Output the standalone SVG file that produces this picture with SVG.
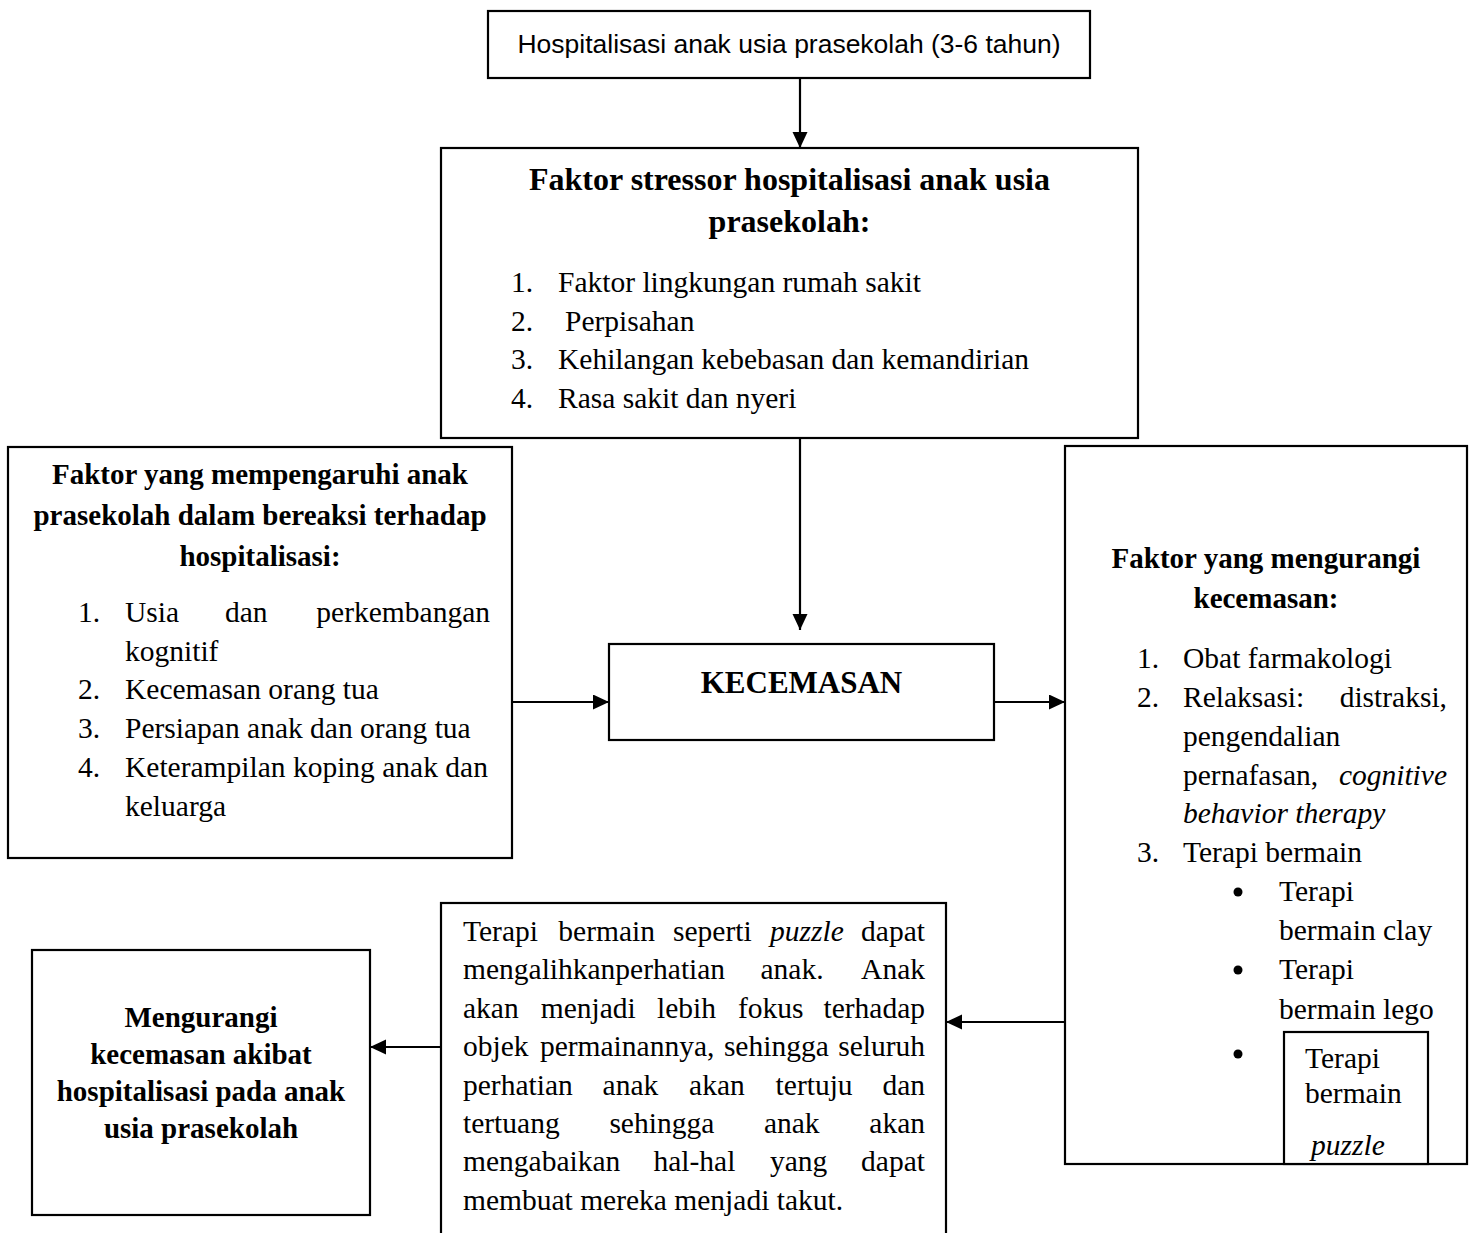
<svg xmlns="http://www.w3.org/2000/svg" width="1475" height="1233" viewBox="0 0 1475 1233">
<style>
.box{fill:#fff;stroke:#000;stroke-width:2.2}
.t{font-family:"Liberation Serif","Times New Roman",serif;font-size:29.5px;fill:#000}
.b{font-family:"Liberation Serif","Times New Roman",serif;font-weight:bold;font-size:29px;fill:#000}
.i{font-style:italic}
.c{text-anchor:middle}
.e{text-anchor:end}
.s{font-family:"Liberation Sans",Arial,sans-serif;font-size:26px;fill:#000}
.ln{stroke:#000;stroke-width:2.2;fill:none;marker-end:url(#ah)}
</style>
<defs>
<marker id="ah" markerUnits="userSpaceOnUse" markerWidth="18" markerHeight="16" refX="16" refY="7.5" orient="auto">
<path d="M0,0 L16,7.5 L0,15 Z" fill="#000"/>
</marker>
</defs>
<rect width="1475" height="1233" fill="#fff"/>

<g id="connectors">
<line class="ln" x1="800" y1="78" x2="800" y2="148"/>
<line class="ln" x1="800" y1="438" x2="800" y2="630"/>
<line class="ln" x1="512" y1="702" x2="609" y2="702"/>
<line class="ln" x1="994" y1="702" x2="1065" y2="702"/>
<line class="ln" x1="1065" y1="1022" x2="946" y2="1022"/>
<line class="ln" x1="441" y1="1047" x2="370" y2="1047"/>
</g>

<g id="node-hospitalisasi">
<rect class="box" x="488" y="11" width="602" height="67"/>
<text class="s c" x="789" y="53" textLength="543" lengthAdjust="spacingAndGlyphs">Hospitalisasi anak usia prasekolah (3-6 tahun)</text>
</g>

<g id="node-stressor">
<rect class="box" x="441" y="148" width="697" height="290"/>
<text class="b c" x="789.5" y="190" style="font-size:32px">Faktor stressor hospitalisasi anak usia</text>
<text class="b c" x="789.5" y="232" style="font-size:32px">prasekolah:</text>
<text class="t" x="511" y="292">1.</text><text class="t" x="558" y="292">Faktor lingkungan rumah sakit</text>
<text class="t" x="511" y="331">2.</text><text class="t" x="565" y="331">Perpisahan</text>
<text class="t" x="511" y="369">3.</text><text class="t" x="558" y="369">Kehilangan kebebasan dan kemandirian</text>
<text class="t" x="511" y="408">4.</text><text class="t" x="558" y="408">Rasa sakit dan nyeri</text>
</g>

<g id="node-faktor-reaksi">
<rect class="box" x="8" y="447" width="504" height="411"/>
<text class="b c" x="260" y="484">Faktor yang mempengaruhi anak</text>
<text class="b c" x="260" y="525">prasekolah dalam bereaksi terhadap</text>
<text class="b c" x="260" y="566">hospitalisasi:</text>
<text class="t" x="78" y="622">1.</text>
<text class="t" x="125" y="622">Usia</text><text class="t" x="225" y="622">dan</text><text class="t e" x="490" y="622">perkembangan</text>
<text class="t" x="125" y="661">kognitif</text>
<text class="t" x="78" y="699">2.</text><text class="t" x="125" y="699">Kecemasan orang tua</text>
<text class="t" x="78" y="738">3.</text><text class="t" x="125" y="738">Persiapan anak dan orang tua</text>
<text class="t" x="78" y="777">4.</text><text class="t" x="125" y="777">Keterampilan koping anak dan</text>
<text class="t" x="125" y="816">keluarga</text>
</g>

<g id="node-kecemasan">
<rect class="box" x="609" y="644" width="385" height="96"/>
<text class="b c" x="801.5" y="693" style="font-size:31px">KECEMASAN</text>
</g>

<g id="node-mengurangi-faktor">
<rect class="box" x="1065" y="446" width="402" height="718"/>
<text class="b c" x="1266" y="568">Faktor yang mengurangi</text>
<text class="b c" x="1266" y="608">kecemasan:</text>
<text class="t" x="1137" y="668">1.</text><text class="t" x="1183" y="668">Obat farmakologi</text>
<text class="t" x="1137" y="707">2.</text><text class="t" x="1183" y="707">Relaksasi:</text><text class="t e" x="1447" y="707">distraksi,</text>
<text class="t" x="1183" y="746">pengendalian</text>
<text class="t" x="1183" y="785">pernafasan,</text><text class="t i e" x="1447" y="785">cognitive</text>
<text class="t i" x="1183" y="823">behavior therapy</text>
<text class="t" x="1137" y="862">3.</text><text class="t" x="1183" y="862">Terapi bermain</text>
<circle cx="1238" cy="892" r="4.5" fill="#000"/>
<text class="t" x="1279" y="901">Terapi</text>
<text class="t" x="1279" y="940">bermain clay</text>
<circle cx="1238" cy="970" r="4.5" fill="#000"/>
<text class="t" x="1279" y="979">Terapi</text>
<text class="t" x="1279" y="1019">bermain lego</text>
<circle cx="1238" cy="1054" r="4.5" fill="#000"/>
</g>

<g id="node-puzzle">
<rect class="box" x="1284" y="1032" width="144" height="132"/>
<text class="t" x="1305" y="1068">Terapi</text>
<text class="t" x="1305" y="1103">bermain</text>
<text class="t i" x="1311" y="1155">puzzle</text>
</g>

<g id="node-penjelasan">
<rect class="box" x="441" y="903" width="505" height="340"/>
<text class="t" y="941"><tspan x="463">Terapi</tspan><tspan x="558.3">bermain</tspan><tspan x="673">seperti</tspan><tspan x="770" class="i">puzzle</tspan></text>
<text class="t e" x="925" y="941">dapat</text>
<text class="t" y="979.4"><tspan x="463">mengalihkanperhatian</tspan><tspan x="760.5">anak.</tspan></text>
<text class="t e" x="925" y="979.4">Anak</text>
<text class="t" y="1017.8"><tspan x="463">akan</tspan><tspan x="540.7">menjadi</tspan><tspan x="657">lebih</tspan><tspan x="737.9">fokus</tspan></text>
<text class="t e" x="925" y="1017.8">terhadap</text>
<text class="t" y="1056.2"><tspan x="463">objek</tspan><tspan x="539.9">permainannya,</tspan><tspan x="723.9">sehingga</tspan></text>
<text class="t e" x="925" y="1056.2">seluruh</text>
<text class="t" y="1094.6"><tspan x="463">perhatian</tspan><tspan x="602.6">anak</tspan><tspan x="689.1">akan</tspan><tspan x="775.6">tertuju</tspan></text>
<text class="t e" x="925" y="1094.6">dan</text>
<text class="t" y="1133"><tspan x="463">tertuang</tspan><tspan x="609.4">sehingga</tspan><tspan x="763.9">anak</tspan></text>
<text class="t e" x="925" y="1133">akan</text>
<text class="t" y="1171.4"><tspan x="463">mengabaikan</tspan><tspan x="653.5">hal-hal</tspan><tspan x="769.9">yang</tspan></text>
<text class="t e" x="925" y="1171.4">dapat</text>
<text class="t" x="463" y="1209.8">membuat mereka menjadi takut.</text>
</g>

<g id="node-hasil">
<rect class="box" x="32" y="950" width="338" height="265"/>
<text class="b c" x="201" y="1027">Mengurangi</text>
<text class="b c" x="201" y="1064">kecemasan akibat</text>
<text class="b c" x="201" y="1101">hospitalisasi pada anak</text>
<text class="b c" x="201" y="1138">usia prasekolah</text>
</g>
</svg>
